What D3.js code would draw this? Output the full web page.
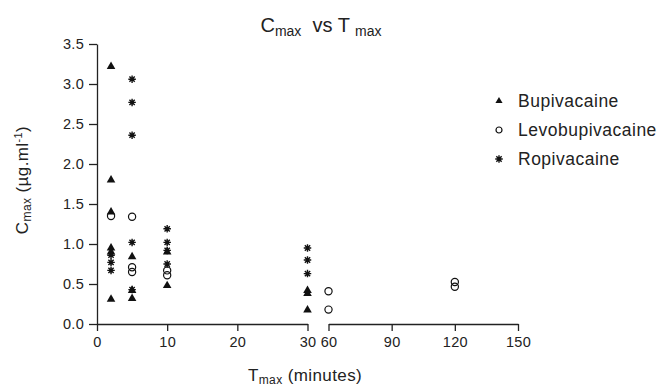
<!DOCTYPE html>
<html>
<head>
<meta charset="utf-8">
<script src="https://cdn.jsdelivr.net/npm/d3@7"></script>
<style>
  body { margin: 0; background: #fff; }
  svg { font-family: "Liberation Sans", Arial, sans-serif; }
  .axis path, .axis line { stroke: #222; stroke-width: 1.3; }
  .axis text { font-size: 14.5px; fill: #222; letter-spacing: 0.3px; }
  text { white-space: pre; }
</style>
</head>
<body>
<div id="chart"></div>
<script>
// data (minutes, ug/ml)
const bupiT = [2, 2, 2, 2, 2, 2, 5, 5, 5, 10, 10, 30, 30, 30];
const bupiC = [3.22, 1.80, 1.40, 0.95, 0.90, 0.31, 0.84, 0.42, 0.32, 0.90, 0.48, 0.42, 0.38, 0.175];
const levoT = [2, 5, 5, 5, 10, 10, 60, 60, 120, 120];
const levoC = [1.35, 1.34, 0.71, 0.65, 0.67, 0.61, 0.41, 0.18, 0.525, 0.465];
const ropiT = [2, 2, 2, 5, 5, 5, 5, 5, 10, 10, 10, 10, 30, 30, 30];
const ropiC = [0.86, 0.77, 0.67, 3.06, 2.77, 2.36, 1.02, 0.43, 1.19, 1.02, 0.92, 0.75, 0.95, 0.80, 0.63];
const seriesNames = ['Bupivacaine', 'Levobupivacaine', 'Ropivacaine'];
const xTicks1 = [0, 10, 20, 30];
const xTicks2 = [60, 90, 120, 150];
const yTicks = [0, 0.5, 1.0, 1.5, 2.0, 2.5, 3.0, 3.5];

const width = 663, height = 388;
const svg = d3.select('#chart').append('svg')
  .attr('width', width)
  .attr('height', height);

// broken x axis: 0-30 wide, 60-150 compressed
const x1 = d3.scaleLinear().domain([0, 30]).range([97, 307.5]);
const x2 = d3.scaleLinear().domain([60, 150]).range([328.5, 518]);
const x = t => (t <= 30 ? x1(t) : x2(t));
const y = d3.scaleLinear().domain([0, 3.5]).range([324, 44]);

// axes
svg.append('g')
  .attr('class', 'axis')
  .attr('transform', 'translate(97,0)')
  .call(d3.axisLeft(y).tickValues(yTicks).tickSize(8).tickSizeOuter(0).tickPadding(5)
    .tickFormat(d3.format('.1f')));
svg.append('g')
  .attr('class', 'axis')
  .attr('transform', 'translate(0,324)')
  .call(d3.axisBottom(x1).tickValues(xTicks1).tickSize(7).tickSizeOuter(0).tickPadding(6));
svg.append('g')
  .attr('class', 'axis')
  .attr('transform', 'translate(0,324)')
  .call(d3.axisBottom(x2).tickValues(xTicks2).tickSize(7).tickSizeOuter(0).tickPadding(6));
svg.selectAll('.axis .domain').attr('fill', 'none');

// marker drawing
const tri = d3.symbol().type(d3.symbolTriangle);
function star(s) {
  const r = s / 2, d = r * Math.SQRT1_2;
  return `M${-r},0L${r},0M0,${-r}L0,${r}M${-d},${-d}L${d},${d}M${-d},${d}L${d},${-d}`;
}
function drawTri(g, size) {
  return g.append('path').attr('d', tri.size(size)()).attr('fill', '#111');
}
function drawCircle(g, r) {
  return g.append('circle').attr('r', r).attr('fill', 'none').attr('stroke', '#111').attr('stroke-width', 1.2);
}
function drawStar(g, s) {
  return g.append('path').attr('d', star(s)).attr('stroke', '#111').attr('stroke-width', 1.4).attr('fill', 'none');
}

const plot = svg.append('g');
bupiT.forEach((t, i) => {
  const g = plot.append('g').attr('transform', `translate(${x(t)},${y(bupiC[i])})`);
  drawTri(g, 32);
});
levoT.forEach((t, i) => {
  const g = plot.append('g').attr('transform', `translate(${x(t)},${y(levoC[i])})`);
  drawCircle(g, 3.6);
});
ropiT.forEach((t, i) => {
  const g = plot.append('g').attr('transform', `translate(${x(t)},${y(ropiC[i])})`);
  drawStar(g, 7.5);
});

// legend
const legend = svg.append('g').attr('transform', 'translate(499,0)');
const legY = [101, 130, 159];
const legDraw = [g => drawTri(g, 22), g => drawCircle(g, 3), g => drawStar(g, 7.5)];
seriesNames.forEach((name, i) => {
  const g = legend.append('g').attr('transform', `translate(0,${legY[i]})`);
  legDraw[i](g);
  g.append('text')
    .attr('x', 19).attr('y', 6)
    .attr('font-size', '17.5px')
    .attr('letter-spacing', '0.5px')
    .attr('fill', '#222')
    .text(name);
});

// title
const title = svg.append('text')
  .attr('x', 321).attr('y', 32)
  .attr('text-anchor', 'middle')
  .attr('font-size', '20px')
  .attr('fill', '#222');
title.append('tspan').text('C');
title.append('tspan').attr('font-size', '14px').attr('dy', 4).text('max');
title.append('tspan').attr('dy', -4).text('  vs T ');
title.append('tspan').attr('font-size', '14px').attr('dy', 4).text('max');

// x label
const xl = svg.append('text')
  .attr('x', 305).attr('y', 381)
  .attr('text-anchor', 'middle')
  .attr('font-size', '17px')
  .attr('letter-spacing', '0.4px')
  .attr('fill', '#222');
xl.append('tspan').text('T');
xl.append('tspan').attr('font-size', '12px').attr('dy', 3).text('max');
xl.append('tspan').attr('dy', -3).text(' (minutes)');

// y label
const yl = svg.append('text')
  .attr('transform', 'translate(28,180) rotate(-90)')
  .attr('text-anchor', 'middle')
  .attr('font-size', '17px')
  .attr('letter-spacing', '0.4px')
  .attr('fill', '#222');
yl.append('tspan').text('C');
yl.append('tspan').attr('font-size', '12px').attr('dy', 3).text('max');
yl.append('tspan').attr('dy', -3).text(' (µg.ml');
yl.append('tspan').attr('font-size', '11px').attr('dy', -6).text('-1');
yl.append('tspan').attr('dy', 6).text(')');
</script>
</body>
</html>
